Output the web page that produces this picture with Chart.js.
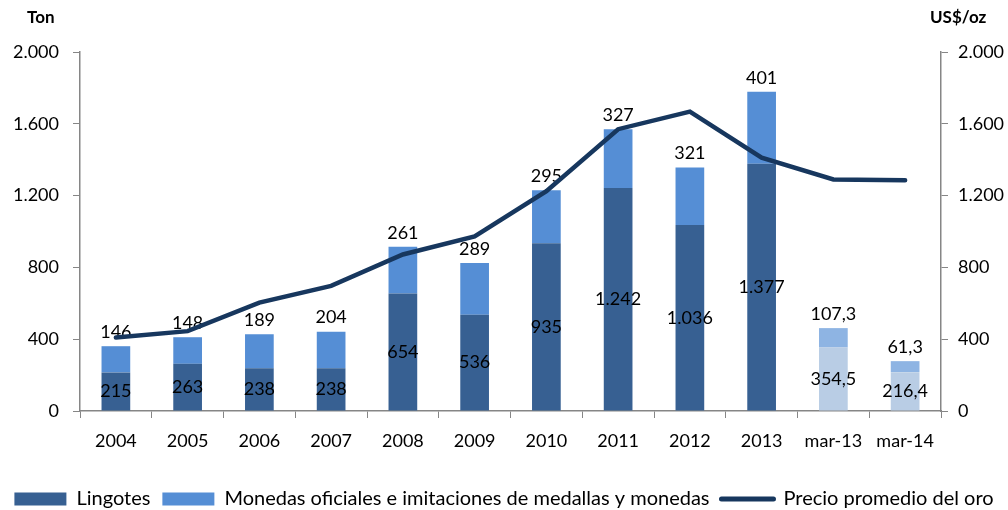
<!DOCTYPE html>
<html>
<head>
<meta charset="utf-8">
<style>
  html, body { margin: 0; padding: 0; background: #fff; }
  #wrap { width: 1008px; height: 510px; }
</style>
</head>
<body>
<div id="wrap"><canvas id="goldChart" width="1008" height="510"></canvas></div>
<script src="https://cdn.jsdelivr.net/npm/chart.js"></script>
<script>
  // values
  const categories = ['2004', '2005', '2006', '2007', '2008', '2009', '2010', '2011', '2012', '2013', 'mar-13', 'mar-14'];
  const lingotes = [215, 263, 238, 238, 654, 536, 935, 1242, 1036, 1377, 354.5, 216.4];
  const monedas = [146, 148, 189, 204, 261, 289, 295, 327, 321, 401, 107.3, 61.3];
  const precioOro = [409, 445, 604, 697, 872, 972, 1225, 1570, 1668, 1411, 1290, 1285];
  const axisTicks = [0, 400, 800, 1200, 1600, 2000];

  const FONT = 'Lato';
  const darkBlue = '#376092', midBlue = '#558ed5';
  const paleBottom = '#b9cde5', paleTop = '#8eb4e3';
  const lineColor = '#17375e';
  const axisGray = '#868686';

  // es formatting: 1.242 / 354,5
  function fmt(v) {
    const parts = String(v).split('.');
    const ent = parts[0].replace(/\B(?=(\d{3})+(?!\d))/g, '.');
    return parts.length > 1 ? ent + ',' + parts[1] : ent;
  }

  const barColors = (main, pale) => categories.map(c => c.startsWith('mar') ? pale : main);

  const labelPlugin = {
    id: 'barLabels',
    afterDatasetDraw(chart, args) {
      const ctx = chart.ctx;
      const i = args.index;
      if (i > 1) return;
      const meta = args.meta;
      const data = chart.data.datasets[i].data;
      ctx.save();
      ctx.font = '18px ' + FONT;
      ctx.fillStyle = '#000';
      ctx.textAlign = 'center';
      ctx.textBaseline = 'middle';
      meta.data.forEach((bar, j) => {
        if (i === 0) {
          ctx.fillText(fmt(data[j]), bar.x, (bar.y + bar.base) / 2);
        } else {
          ctx.fillText(fmt(data[j]), bar.x, bar.y - 14);
        }
      });
      ctx.restore();
    }
  };

  const titlePlugin = {
    id: 'axisTitles',
    afterDraw(chart) {
      const ctx = chart.ctx;
      ctx.save();
      ctx.font = 'bold 17px ' + FONT;
      ctx.fillStyle = '#000';
      ctx.textBaseline = 'middle';
      ctx.textAlign = 'left';
      ctx.fillText('Ton', 27, 18);
      ctx.fillText('US$/oz', 930, 18);
      ctx.restore();
    }
  };

  const ctx = document.getElementById('goldChart').getContext('2d');
  new Chart(ctx, {
    type: 'bar',
    data: {
      labels: categories,
      datasets: [{
        label: 'Lingotes',
        data: lingotes,
        backgroundColor: barColors(darkBlue, paleBottom),
        stack: 's',
        order: 1,
        yAxisID: 'y'
      }, {
        label: 'Monedas oficiales e imitaciones de medallas y monedas',
        data: monedas,
        backgroundColor: barColors(midBlue, paleTop),
        stack: 's',
        order: 1,
        yAxisID: 'y'
      }, {
        type: 'line',
        label: 'Precio promedio del oro',
        data: precioOro,
        borderColor: lineColor,
        backgroundColor: lineColor,
        borderWidth: 4.5,
        borderCapStyle: 'round',
        pointRadius: 0,
        tension: 0,
        order: 0,
        yAxisID: 'y1'
      }]
    },
    options: {
      responsive: false,
      animation: false,
      layout: { padding: { top: 52, left: 0, right: 0, bottom: -9 } },
      datasets: { bar: { barPercentage: 0.8, categoryPercentage: 0.5 } },
      plugins: {
        tooltip: { enabled: false },
        legend: {
          position: 'bottom',
          labels: {
            font: { family: FONT, size: 20 },
            color: '#000',
            usePointStyle: true,
            pointStyleWidth: 52,
            boxHeight: 13,
            padding: 12,
            generateLabels(chart) {
              const items = Chart.defaults.plugins.legend.labels.generateLabels(chart);
              items.sort((a, b) => a.datasetIndex - b.datasetIndex);
              items[0].pointStyle = 'rect'; items[0].fillStyle = darkBlue; items[0].lineWidth = 0;
              items[1].pointStyle = 'rect'; items[1].fillStyle = midBlue; items[1].lineWidth = 0;
              items[2].pointStyle = 'line'; items[2].strokeStyle = lineColor; items[2].lineWidth = 5; items[2].lineCap = 'round';
              return items;
            }
          }
        }
      },
      scales: {
        x: {
          stacked: true,
          offset: true,
          grid: { offset: true, drawOnChartArea: false, drawTicks: true, tickLength: 7, color: axisGray },
          border: { color: axisGray, width: 1.5 },
          ticks: { font: { family: FONT, size: 18 }, color: '#000', padding: 12, maxRotation: 0, autoSkip: false },
          afterFit(scale) { scale.height = 66; }
        },
        y: {
          position: 'left',
          stacked: true,
          min: 0, max: 2000,
          afterBuildTicks(scale) { scale.ticks = axisTicks.map(v => ({ value: v })); },
          grid: { drawOnChartArea: false, drawTicks: true, tickLength: 7, color: axisGray },
          border: { color: axisGray, width: 1.5 },
          ticks: { font: { family: FONT, size: 18 }, color: '#000', padding: 14, callback: v => fmt(v) },
          afterFit(scale) { scale.width = 80; }
        },
        y1: {
          position: 'right',
          min: 0, max: 2000,
          afterBuildTicks(scale) { scale.ticks = axisTicks.map(v => ({ value: v })); },
          grid: { drawOnChartArea: false, drawTicks: true, tickLength: 7, color: axisGray },
          border: { color: axisGray, width: 1.5 },
          ticks: { font: { family: FONT, size: 18 }, color: '#000', padding: 10, callback: v => fmt(v) },
          afterFit(scale) { scale.width = 67; }
        }
      }
    },
    plugins: [labelPlugin, titlePlugin]
  });
</script>
</body>
</html>
